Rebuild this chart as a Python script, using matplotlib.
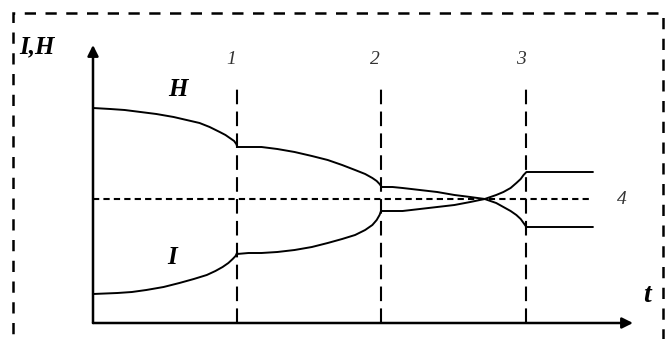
import matplotlib.pyplot as plt
from matplotlib.patches import Rectangle

# curve H, three pieces + flat tail (t, value)
h1_t = [0, 0.12, 0.22, 0.33, 0.44, 0.56, 0.65, 0.74, 0.81, 0.88, 0.92, 0.95, 0.98, 0.995, 1.0]
h1_v = [215, 214, 213, 211, 209, 206, 203, 200, 196, 191, 188, 185, 182, 179, 177]
h2_t = [1.0, 1.08, 1.17, 1.28, 1.40, 1.52, 1.63, 1.73, 1.82, 1.89, 1.94, 1.97, 1.99, 2.0]
h2_v = [176, 176, 176, 174, 171, 167, 163, 158, 153, 149, 145, 142, 139, 137]
h3_t = [2.0, 2.08, 2.15, 2.27, 2.39, 2.51, 2.62, 2.72, 2.80, 2.85, 2.90, 2.94, 2.97, 2.99, 3.01, 3.47]
h3_v = [136, 136, 135, 133, 131, 128, 126, 124, 120, 116, 112, 108, 104, 100, 96, 96]

# curve I
i1_t = [0, 0.17, 0.27, 0.37, 0.49, 0.60, 0.70, 0.79, 0.85, 0.90, 0.94, 0.97, 0.99, 1.0]
i1_v = [29, 30, 31, 33, 36, 40, 44, 48, 52, 56, 60, 64, 67, 70]
i2_t = [1.0, 1.08, 1.17, 1.28, 1.40, 1.52, 1.63, 1.73, 1.82, 1.89, 1.94, 1.97, 1.99, 2.0]
i2_v = [69, 70, 70, 71, 73, 76, 80, 84, 88, 93, 98, 103, 108, 112]
i3_t = [2.0, 2.08, 2.15, 2.27, 2.39, 2.51, 2.62, 2.72, 2.80, 2.85, 2.90, 2.94, 2.97, 2.99, 3.01, 3.47]
i3_v = [112, 112, 112, 114, 116, 118, 121, 124, 128, 131, 135, 140, 144, 148, 151, 151]

stage_t = [1.0, 2.0, 3.01]
stage_labels = ['1', '2', '3']
level4 = 124

fig = plt.figure(figsize=(6.7, 3.39), dpi=100)
ax = fig.add_axes([0, 0, 1, 1])
ax.set_xlim(-93/144, 577/144)
ax.set_ylim(-16, 323)
ax.axis('off')

# outer dashed frame
frame = Rectangle((-80/144, -40), 650/144, 350, fill=False, lw=1.8, ls=(0, (4.5, 3.8)), color='black')
ax.add_patch(frame)

# axes with arrows
ax.annotate('', xy=(0, 278), xytext=(0, 0),
            arrowprops=dict(arrowstyle='-|>', lw=1.8, color='black', mutation_scale=16, shrinkA=0, shrinkB=0))
ax.annotate('', xy=(3.75, 0), xytext=(0, 0),
            arrowprops=dict(arrowstyle='-|>', lw=1.8, color='black', mutation_scale=16, shrinkA=0, shrinkB=0))

# stage lines
for t, lab in zip(stage_t, stage_labels):
    ax.plot([t, t], [0, 235], color='black', lw=1.5, ls=(0, (7, 3.5)))
    ax.text(t - 0.04, 263, lab, fontsize=14, fontstyle='italic', family='Liberation Serif',
            color='#333333', ha='center', va='center')

ax.plot([0, 3.47], [level4, level4], color='black', lw=1.5, ls=(0, (3, 2)))
ax.text(3.67, level4, '4', fontsize=14, fontstyle='italic', family='Liberation Serif',
        color='#333333', ha='center', va='center')

for tt, vv in [(h1_t, h1_v), (h2_t, h2_v), (h3_t, h3_v), (i1_t, i1_v), (i2_t, i2_v), (i3_t, i3_v)]:
    ax.plot(tt, vv, color='black', lw=1.4, solid_joinstyle='round')

bi = dict(family='Liberation Serif', fontweight='bold', fontstyle='italic', ha='center', va='center')
ax.text(-0.39, 276, 'I,H', fontsize=18, **bi)
ax.text(0.59, 233, 'H', fontsize=18, **bi)
ax.text(0.55, 66, 'I', fontsize=18, **bi)
ax.text(3.85, 28, 't', fontsize=20, **bi)

fig.savefig('out.png', dpi=100)
